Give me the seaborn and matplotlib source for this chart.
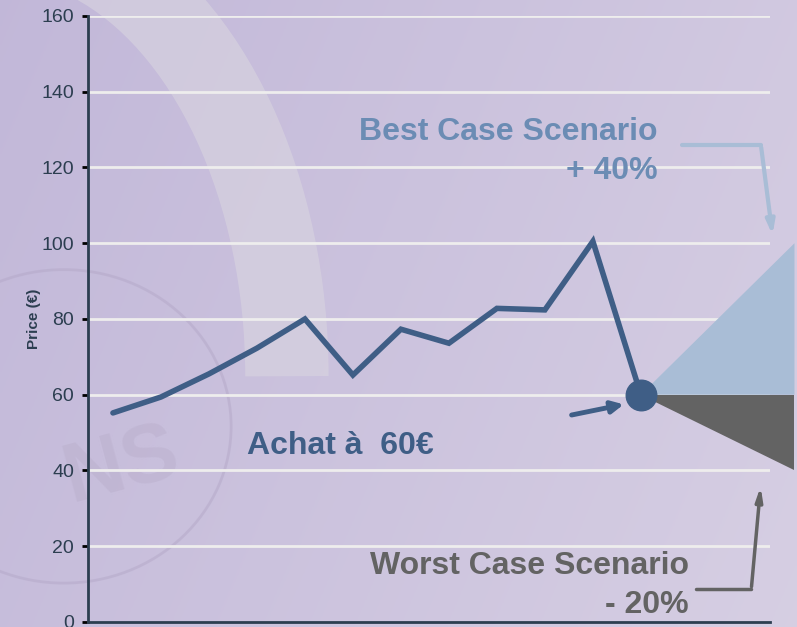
import numpy as np
import pandas as pd
import matplotlib
matplotlib.use("Agg")
import matplotlib.pyplot as plt
import seaborn as sns
from matplotlib.patches import Arc

# price history (index of observation -> price in euros)
periods = list(range(12))
prices = [55.2, 59.4, 65.5, 72.3, 80.0, 65.2, 77.3, 73.6, 82.8, 82.4, 100.5, 60.0]

# scenario wedges: from the purchase point to the horizon
scenario_x = [11, 14.2]
best_case = [60, 100]
worst_case = [60, 40]
purchase_price = 60

yticks = [0, 20, 40, 60, 80, 100, 120, 140, 160]

line_col = "#3f5e86"
best_col = "#a9bdd6"
best_text = "#6b8cb4"
worst_col = "#636363"
axis_col = "#2c3e50"

sns.set_style("white")
plt.rcParams["font.family"] = ["Liberation Sans", "DejaVu Sans"]

fig = plt.figure(figsize=(7.97, 6.27), dpi=100)

# lavender background with a soft swirl
bg = fig.add_axes([0, 0, 1, 1])
grad = np.linspace(0, 1, 256)
gx, gy = np.meshgrid(grad, grad)
c0 = np.array([0.76, 0.72, 0.85])
c1 = np.array([0.84, 0.81, 0.89])
img = c0 + (c1 - c0) * (0.75 * gx + 0.25 * (1 - gy))[..., None]
bg.imshow(img, extent=[0, 1, 0, 1], aspect="auto", origin="lower")
bg.add_patch(Arc((0.0, 0.4), 0.72, 1.4, theta1=0, theta2=80, lw=60,
                 color="#d9d5e0", alpha=0.6))
bg.add_patch(Arc((0.08, 0.32), 0.42, 0.5, theta1=0, theta2=360, lw=2,
                 color="#b4a8c8", alpha=0.5))
bg.text(0.07, 0.2, "NS", fontsize=60, fontweight="bold", color="#b9aecb",
        alpha=0.45, rotation=15)
bg.set_xlim(0, 1)
bg.set_ylim(0, 1)
bg.axis("off")

ax = fig.add_axes([0.1104, 0.008, 0.8557, 0.9665])
ax.patch.set_alpha(0)

for y in yticks[1:]:
    ax.axhline(y, color="#eeeded", lw=2, zorder=1)

ax.fill([scenario_x[0], scenario_x[1], scenario_x[1]],
        [best_case[0], best_case[1], purchase_price],
        color=best_col, lw=0, zorder=2, clip_on=False)
ax.fill([scenario_x[0], scenario_x[1], scenario_x[1]],
        [worst_case[0], purchase_price, worst_case[1]],
        color=worst_col, lw=0, zorder=2, clip_on=False)

df = pd.DataFrame({"period": periods, "price": prices})
sns.lineplot(data=df, x="period", y="price", ax=ax, color=line_col,
             lw=4, zorder=3, solid_joinstyle="miter")
ax.plot(periods[-1], prices[-1], "o", ms=22, color=line_col, zorder=4)

ax.set_xlim(-0.52, 13.69)
ax.set_ylim(0, 160)
ax.set_yticks(yticks)
ax.set_xticks([])
ax.set_xlabel("")
ax.set_ylabel("Price (€)", fontsize=11, fontweight="bold", color=axis_col,
              labelpad=0)
ax.tick_params(axis="y", length=4, width=2, color="black", labelsize=14,
               labelcolor=axis_col, pad=6, left=True)
for side in ["top", "right"]:
    ax.spines[side].set_visible(False)
for side in ["left", "bottom"]:
    ax.spines[side].set_color(axis_col)
    ax.spines[side].set_linewidth(2)

# annotations
ax.text(6.68, 46.5, "Achat à  60€", fontsize=23, fontweight="bold",
        color=line_col, ha="right", va="center")
ax.annotate("", xy=(10.7, 57.6), xytext=(9.5, 54.5),
            arrowprops=dict(arrowstyle="-|>,head_length=0.7,head_width=0.35",
                            color=line_col, lw=3.5))

ax.text(11.35, 129.5, "Best Case Scenario", fontsize=23, fontweight="bold",
        color=best_text, ha="right", va="center")
ax.text(11.35, 119, "+ 40%", fontsize=23, fontweight="bold",
        color=best_text, ha="right", va="center")
ax.plot([11.85, 13.5], [126, 126], color=best_col, lw=3, zorder=3)
ax.annotate("", xy=(13.75, 101.5), xytext=(13.5, 126),
            arrowprops=dict(arrowstyle="-|>,head_length=0.8,head_width=0.25",
                            color=best_col, lw=3), annotation_clip=False)

ax.text(12.0, 14.8, "Worst Case Scenario", fontsize=23, fontweight="bold",
        color=worst_col, ha="right", va="center")
ax.text(12.0, 4.5, "- 20%", fontsize=23, fontweight="bold",
        color=worst_col, ha="right", va="center")
ax.plot([12.15, 13.3], [8.6, 8.6], color=worst_col, lw=2.5, zorder=3)
ax.annotate("", xy=(13.5, 36.5), xytext=(13.3, 8.6),
            arrowprops=dict(arrowstyle="-|>,head_length=0.8,head_width=0.2",
                            color=worst_col, lw=2.5), annotation_clip=False)

fig.savefig("out.png", dpi=100)
